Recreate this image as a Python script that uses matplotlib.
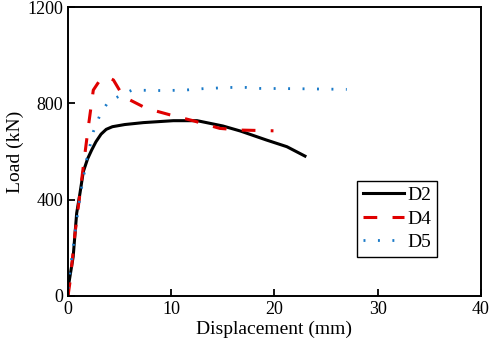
import matplotlib.pyplot as plt

# D2 curve
d2_x = [0, 0.03, 0.5, 0.84, 1.16, 1.48, 1.9, 2.29, 2.7, 3.2, 3.7, 4.3, 5.5, 7.3, 10.2, 12.5, 15.0, 16.7, 19.2, 21.2, 22.95]
d2_y = [0, 39, 163, 344, 427, 516, 570, 606, 640, 672, 692, 703, 712, 720, 728, 728, 706, 685, 648, 620, 581]

# D4 curve
d4_x = [0, 0.2, 0.68, 1.48, 1.97, 2.45, 3.1, 3.9, 4.4, 5.36, 7.6, 9.9, 12.1, 14.7, 16.7, 19.9]
d4_y = [0, 60, 261, 537, 703, 855, 897, 908, 897, 828, 779, 752, 728, 696, 689, 686]

# D5 curve
d5_x = [0, 0.5, 1.16, 1.8, 2.45, 3.1, 3.9, 5.2, 6.2, 9.2, 11.3, 13.1, 15.7, 17.3, 18.6, 21.8, 27.0]
d5_y = [30, 205, 412, 565, 682, 752, 807, 835, 855, 853, 855, 861, 866, 866, 862, 861, 858]

plt.rcParams['font.family'] = ['Liberation Serif']

fig = plt.figure(figsize=(4.91, 3.51), dpi=100)
ax = fig.add_axes([0.1385, 0.1567, 0.8411, 0.8233])

ax.plot(d2_x, d2_y, color='black', lw=2.2, label='D2')
ax.plot(d4_x, d4_y, color='#e00000', lw=2.2, dashes=(4.5, 5), label='D4')
ax.plot(d5_x, d5_y, color='#1a7ac8', lw=2.0, dashes=(0.7, 4.5), label='D5')

ax.set_xlim(0, 40)
ax.set_ylim(0, 1200)
ax.set_xticks([0, 10, 20, 30, 40])
ax.set_yticks([0, 400, 800, 1200])
ax.tick_params(direction='in', labelsize=13, width=1.3, length=5)
ax.set_xlabel('Displacement (mm)', fontsize=14, labelpad=2)
ax.set_ylabel('Load (kN)', fontsize=14, labelpad=2)
for s in ax.spines.values():
    s.set_linewidth(1.4)

leg = ax.legend(loc='lower left', bbox_to_anchor=(0.70, 0.135), fontsize=14,
                fancybox=False, edgecolor='black', framealpha=1, borderaxespad=0,
                handlelength=2.1, borderpad=0.3, labelspacing=0.3, handletextpad=0.2)
leg.get_frame().set_linewidth(1.0)

fig.savefig('out.png', dpi=100)
